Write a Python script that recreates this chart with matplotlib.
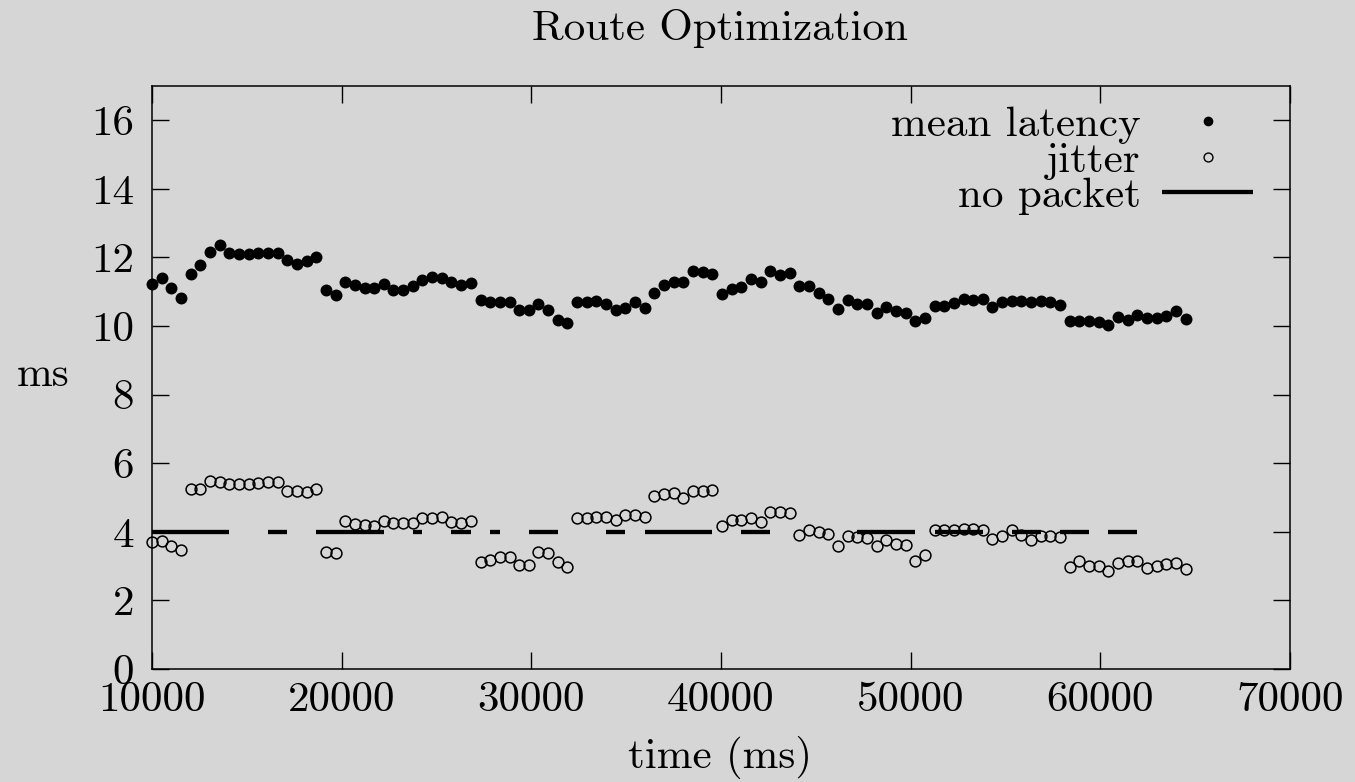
import numpy as np
import matplotlib
matplotlib.use("Agg")
import matplotlib.pyplot as plt
from matplotlib.lines import Line2D

plt.rcParams['font.family'] = ['cmr10', 'DejaVu Serif']
plt.rcParams['mathtext.fontset'] = 'cm'
plt.rcParams['axes.formatter.use_mathtext'] = True

# ---------------- data ----------------
time_ms = [
    10000, 10510, 11020, 11530, 12040, 12550, 13060, 13570, 14070, 14580,
    15090, 15600, 16110, 16620, 17130, 17640, 18150, 18660, 19170, 19680,
    20190, 20700, 21210, 21720, 22220, 22730, 23240, 23750, 24260, 24770,
    25280, 25790, 26300, 26810, 27320, 27830, 28340, 28850, 29360, 29860,
    30370, 30880, 31390, 31900, 32410, 32920, 33430, 33940, 34450, 34960,
    35470, 35980, 36490, 37000, 37500, 38010, 38520, 39030, 39540, 40050,
    40560, 41070, 41580, 42090, 42600, 43110, 43620, 44130, 44640, 45150,
    45650, 46160, 46670, 47180, 47690, 48200, 48710, 49220, 49730, 50240,
    50750, 51260, 51770, 52280, 52790, 53300, 53800, 54310, 54820, 55330,
    55840, 56350, 56860, 57370, 57880, 58390, 58900, 59410, 59920, 60430,
    60940, 61440, 61950, 62460, 62970, 63480, 63990, 64500,
]

mean_latency = [
    11.23, 11.39, 11.10, 10.81, 11.52, 11.78, 12.17, 12.36, 12.14, 12.09,
    12.09, 12.12, 12.14, 12.14, 11.92, 11.81, 11.89, 12.02, 11.04, 10.91,
    11.28, 11.20, 11.11, 11.11, 11.24, 11.05, 11.05, 11.18, 11.34, 11.43,
    11.41, 11.28, 11.21, 11.26, 10.75, 10.71, 10.71, 10.71, 10.46, 10.46,
    10.63, 10.47, 10.18,
    10.09, 10.71, 10.71, 10.72, 10.65, 10.46, 10.53, 10.71, 10.52, 10.97,
    11.21, 11.28, 11.28, 11.60, 11.57, 11.52, 10.94, 11.07, 11.14, 11.37,
    11.28, 11.60, 11.50, 11.55, 11.17, 11.17, 10.97, 10.79, 10.49, 10.75,
    10.65, 10.65, 10.39, 10.57, 10.44, 10.39, 10.14, 10.24, 10.59, 10.59,
    10.68,
    10.80, 10.75, 10.79, 10.56, 10.70, 10.72, 10.72, 10.70, 10.72, 10.71,
    10.62, 10.14, 10.14, 10.14, 10.11, 10.03, 10.25, 10.18, 10.33, 10.24,
    10.24, 10.29, 10.43, 10.20,
]

jitter = [
    3.69, 3.74, 3.59, 3.46, 5.25, 5.25, 5.49, 5.46, 5.38, 5.40,
    5.40, 5.43, 5.46, 5.46, 5.20, 5.20, 5.17, 5.25, 3.42, 3.39,
    4.32, 4.22, 4.19, 4.16, 4.32, 4.27, 4.25, 4.25, 4.39, 4.41,
    4.44, 4.28, 4.27, 4.33, 3.13, 3.17, 3.26, 3.26, 3.04, 3.04,
    3.40, 3.38, 3.11,
    2.97, 4.41, 4.41, 4.44, 4.43, 4.35, 4.50, 4.50, 4.43, 5.04,
    5.09, 5.12, 4.99, 5.20, 5.20, 5.22, 4.17, 4.35, 4.35, 4.41,
    4.29, 4.58, 4.58, 4.55, 3.90, 4.06, 3.99, 3.93, 3.59, 3.88,
    3.86, 3.83, 3.59, 3.77, 3.65, 3.62, 3.14, 3.33, 4.04, 4.04,
    4.04,
    4.08, 4.08, 4.06, 3.80, 3.88, 4.04, 3.91, 3.77, 3.88, 3.88,
    3.85, 2.97, 3.15, 2.99, 2.99, 2.87, 3.10, 3.14, 3.14, 2.95,
    2.99, 3.05, 3.08, 2.91,
]

# "no packet" runs of samples (start index, end index), drawn at level 4 ms
no_packet_level = 4
no_packet_runs = [(0, 8), (12, 14), (17, 24), (27, 28), (31, 33), (35, 36),
                  (39, 42), (47, 49), (51, 58), (61, 64), (73, 79), (81, 86),
                  (89, 92), (94, 97), (99, 102)]

x_ticks = [10000, 20000, 30000, 40000, 50000, 60000, 70000]
y_ticks = [0, 2, 4, 6, 8, 10, 12, 14, 16]

title = "Route Optimization"
x_label = "time (ms)"
y_label = "ms"

# ---------------- figure ----------------
W, H = 1355, 782
bg = '#d6d6d6'
fig = plt.figure(figsize=(W / 100, H / 100), dpi=100, facecolor=bg)
ax = fig.add_axes([152 / W, 1 - 669 / H, (1290 - 152) / W, (669 - 86) / H])
ax.set_facecolor(bg)

t = np.array(time_ms, dtype=float)
flag = np.zeros(len(t), dtype=bool)
for a, b in no_packet_runs:
    flag[a:b + 1] = True
np_y = np.where(flag, float(no_packet_level), np.nan)

ax.plot(t, np_y, color='black', lw=3.1, solid_capstyle='butt', label='no packet', zorder=2)
ax.plot(t, mean_latency, 'o', ls='none', color='black', ms=8.6, mew=0,
        label='mean latency', zorder=3, clip_on=False)
ax.plot(t, jitter, 'o', ls='none', mfc='none', mec='black', ms=7.8, mew=1.1,
        label='jitter', zorder=3, clip_on=False)

ax.set_xlim(10000, 70000)
ax.set_ylim(0, 17)
ax.set_xticks(x_ticks)
ax.set_yticks(y_ticks)
ax.set_xticklabels([str(v) for v in x_ticks])
ax.set_yticklabels([str(v) for v in y_ticks])

fs = 31
ax.tick_params(axis='both', which='both', direction='in', length=12, width=1.0,
               top=True, right=True, labelsize=fs, colors='black')
ax.tick_params(axis='x', pad=9)
ax.tick_params(axis='y', pad=13)
for sp in ax.spines.values():
    sp.set_linewidth(1.1)
    sp.set_color('black')

fig.text(720 / W, 1 - 40 / H, title, ha='center', va='baseline', fontsize=fs)
fig.text(720 / W, 1 - 768 / H, x_label, ha='center', va='baseline', fontsize=fs)
fig.text(17 / W, 1 - 386 / H, y_label, ha='left', va='baseline', fontsize=fs)

handles = [
    Line2D([], [], marker='o', ls='none', color='black', ms=7.0, mew=0),
    Line2D([], [], marker='o', ls='none', mfc='none', mec='black', ms=6.4, mew=1.0),
    Line2D([], [], color='black', lw=3.1, solid_capstyle='butt'),
]
labels = ['mean latency', 'jitter', 'no packet']
leg = ax.legend(handles, labels, loc='upper right', frameon=False,
                markerfirst=False, fontsize=fs, handlelength=2.1,
                handletextpad=0.5, labelspacing=-0.06, borderaxespad=0,
                bbox_to_anchor=(1270 / W, 1 - 89 / H),
                bbox_transform=fig.transFigure, numpoints=1)

fig.savefig('out.png', dpi=100, facecolor=bg)
